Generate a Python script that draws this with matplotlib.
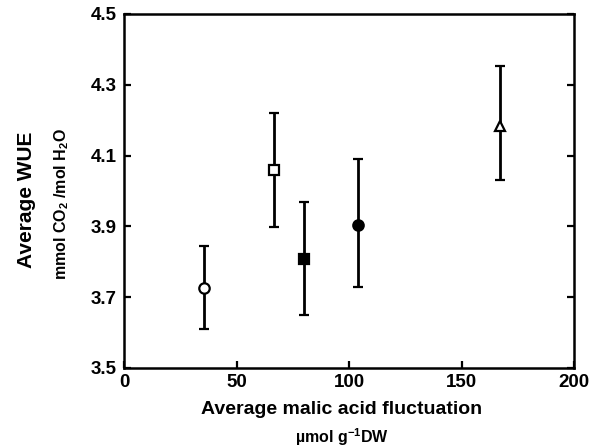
import numpy as np
import matplotlib
matplotlib.use("Agg")
import matplotlib.pyplot as plt

plt.rcParams['font.family'] = ['Liberation Sans', 'DejaVu Sans']
plt.rcParams['font.weight'] = 'bold'
plt.rcParams['mathtext.default'] = 'regular'

# data
malic = [35.6, 66.7, 79.9, 104.0, 167.0]
wue = [3.727, 4.06, 3.807, 3.905, 4.185]
err_lo = [3.609, 3.897, 3.649, 3.729, 4.032]
err_hi = [3.846, 4.220, 3.968, 4.091, 4.354]
markers = ["o", "s", "s", "o", "^"]
filled = [False, False, True, True, False]

fig = plt.figure(figsize=(5.98, 4.47), dpi=100)
ax = fig.add_axes([124 / 598, 1 - 368 / 447, (574 - 124) / 598, (368 - 14) / 447])

for x, y, lo, hi, m, f in zip(malic, wue, err_lo, err_hi, markers, filled):
    ax.errorbar(x, y, yerr=[[y - lo], [hi - y]], fmt=m, color="black",
                mfc="black" if f else "white", mec="black", mew=1.6,
                ms=7.5, elinewidth=2, capsize=3.4, capthick=1.8, zorder=3)

ax.set_xlim(0, 200)
ax.set_ylim(3.5, 4.5)
ax.set_xticks([0, 50, 100, 150, 200])
ax.set_yticks([3.5, 3.7, 3.9, 4.1, 4.3, 4.5])
ax.set_yticklabels(["3.5", "3.7", "3.9", "4.1", "4.3", "4.5"])

for s in ax.spines.values():
    s.set_linewidth(1.8)
ax.tick_params(axis="both", which="both", direction="in", right=True, top=False,
               length=5, width=1.6, labelsize=13.5)
ax.tick_params(axis="y", pad=5)
ax.tick_params(axis="x", pad=4)

fig.text(342 / 598, 1 - 410 / 447, "Average malic acid fluctuation", ha="center",
         va="center", fontsize=14, fontweight="bold")
fig.text(342 / 598, 1 - 437 / 447, "µmol g$^{-1}$DW", ha="center",
         va="center", fontsize=11.5, fontweight="bold")
fig.text(26 / 598, 1 - 200 / 447, "Average WUE", ha="center", va="center",
         rotation=90, fontsize=15, fontweight="bold")
fig.text(62 / 598, 1 - 204 / 447, "mmol CO$_2$ /mol H$_2$O", ha="center", va="center",
         rotation=90, fontsize=11.5, fontweight="bold")

fig.savefig("out.png", dpi=100)
